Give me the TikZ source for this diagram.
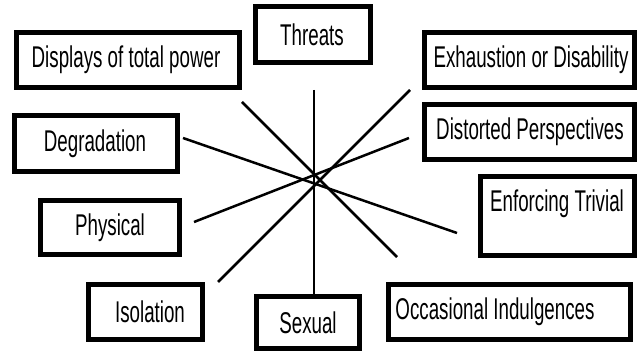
\documentclass[tikz,border=0pt]{standalone}
\usepackage{fontspec}
\setmainfont[FakeStretch=0.625]{Liberation Sans}
\begin{document}
\begin{tikzpicture}[x=1pt,y=-1pt,
  box/.style={draw=black,line width=5pt,fill=white,inner sep=0pt},
  lbl/.style={font=\fontsize{30}{32}\selectfont,inner sep=0pt},
  ray/.style={draw=black,line width=2.5pt}]
\useasboundingbox[fill=white] (0,0) rectangle (643,355);
% connectors (free floating rays)
\coordinate (tA) at (314,90);  \coordinate (tB) at (314,294);
\coordinate (dA) at (242,102); \coordinate (dB) at (397,257);
\coordinate (gA) at (183,138); \coordinate (gB) at (457,233);
\coordinate (pA) at (194,222); \coordinate (pB) at (409,138);
\coordinate (iA) at (218,282); \coordinate (iB) at (410,90);
\draw[ray] (tA) -- (tB);
\draw[ray] (dA) -- (dB);
\draw[ray] (gA) -- (gB);
\draw[ray] (pA) -- (pB);
\draw[ray] (iA) -- (iB);
% boxes
\node[box,minimum width=223pt,minimum height=55pt] (disp) at (128,60) {};
\node[box,minimum width=115pt,minimum height=56pt] (thr) at (313,34.5) {};
\node[box,minimum width=210pt,minimum height=55pt] (exh) at (529.5,60) {};
\node[box,minimum width=210pt,minimum height=55pt] (dist) at (529.5,132) {};
\node[box,minimum width=163pt,minimum height=56pt] (deg) at (96,143.5) {};
\node[box,minimum width=139pt,minimum height=54pt] (phys) at (110,227.5) {};
\node[box,minimum width=154pt,minimum height=79pt] (enf) at (557.5,216) {};
\node[box,minimum width=114pt,minimum height=55pt] (iso) at (145.5,312) {};
\node[box,minimum width=103pt,minimum height=52pt] (sex) at (308,322.5) {};
\node[box,minimum width=242pt,minimum height=55pt] (occ) at (509.5,312) {};
% labels
\node[lbl] (tdisp) at (126,60) {Displays of total power};
\node[lbl] (tthr) at (312,34.5) {Threats};
\node[lbl] (texh) at (531,60) {Exhaustion or Disability};
\node[lbl] (tdist) at (530,132) {Distorted Perspectives};
\node[lbl] (tdeg) at (95,143.5) {Degradation};
\node[lbl] (tphys) at (110,227.5) {Physical};
\node[lbl] (tenf) at (557,204) {Enforcing Trivial};
\node[lbl] (tiso) at (150,312) {Isolation};
\node[lbl] (tsex) at (308,322.5) {Sexual};
\node[lbl] (tocc) at (495,312) {Occasional Indulgences};
\end{tikzpicture}
\end{document}
